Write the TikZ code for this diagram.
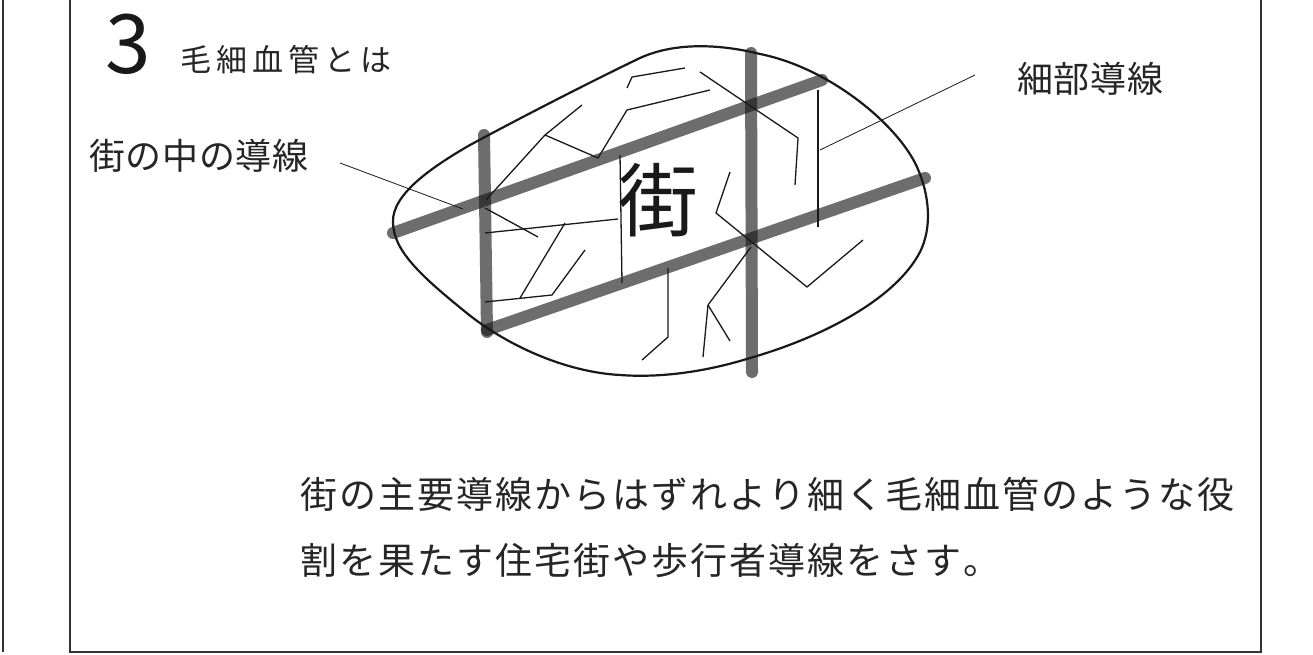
\documentclass[tikz,border=0pt]{standalone}
\usepackage{fontspec}
\setmainfont{Noto Sans CJK JP}
\newfontfamily\jpfont{Noto Sans CJK JP}

% spaced text: \spacedtext{gap}{characters}
\def\spacedtext#1#2{\def\spgap{#1}\spacedloop#2\relax}
\def\spacedloop#1{\ifx\relax#1\else#1\kern\spgap\expandafter\spacedloop\fi}

\begin{document}
\begin{tikzpicture}[x=1pt,y=-1pt,
  frameline/.style={line width=2pt, draw=black!80},
  outline/.style={line width=2.2pt, draw=black!90},
  thin/.style={line width=1.3pt, draw=black!90},
  leader/.style={line width=0.8pt, draw=black!90},
  road/.style={line width=12pt, line cap=round, draw=black!90, draw opacity=0.63},
  label/.style={inner sep=0pt, anchor=west, text=black!85}
]
\useasboundingbox (0,0) rectangle (1313,655);
\fill[white] (0,0) rectangle (1313,655);

% panel frame
\draw[frameline] (3,0) -- (3,652);
\draw[frameline] (70,0) -- (70,652) -- (1261,652) -- (1261,0);

% heading
\node[label, text=black!90] (num) at (105,44) {\fontsize{82}{84}\selectfont 3};
\node[label] (title) at (180,60) {\fontsize{31}{34}\selectfont\spacedtext{5pt}{毛細血管とは}};

% town outline
\draw[outline] (393,222)
  .. controls (392,195) and (430,168) .. (470,145)
  .. controls (520,118) and (590,82) .. (640,58)
  .. controls (675,42) and (720,44) .. (760,54)
  .. controls (830,68) and (898,125) .. (917,167)
  .. controls (930,196) and (932,228) .. (920,252)
  .. controls (895,300) and (820,338) .. (750,358)
  .. controls (705,372) and (660,378) .. (620,375)
  .. controls (565,372) and (505,345) .. (463,310)
  .. controls (420,275) and (393,250) .. cycle;

% fine paths inside the town
\draw[thin] (486,200) -- (545,135) -- (582,105);
\draw[thin] (545,135) -- (598,158) -- (627,110) -- (710,90);
\draw[thin] (627,88) -- (632,77) -- (685,68);
\draw[thin] (700,72) -- (798,138) -- (795,185);
\draw[thin] (818,90) -- (818,227);
\draw[thin] (485,208) -- (538,237);
\draw[thin] (485,233) -- (618,219);
\draw[thin] (620,155) -- (622,283);
\draw[thin] (565,223) -- (520,298);
\draw[thin] (485,302) -- (552,295) -- (585,250);
\draw[thin] (668,268) -- (668,337) -- (642,360);
\draw[thin] (730,172) -- (716,213) -- (807,287) -- (863,240);
\draw[thin] (751,247) -- (708,305) -- (703,357);
\draw[thin] (708,305) -- (730,341);

% main roads
\draw[road] (393,233) -- (822,80);
\draw[road] (487,330) -- (925,178);
\draw[road] (484,135) -- (487,332);
\draw[road] (751,53) -- (752,372);

% town label
\node[inner sep=0pt, text=black!90] (town) at (658,200) {\fontsize{80}{84}\selectfont 街};

% callouts
\node[label] (mainlbl) at (89,156) {\fontsize{36}{38}\selectfont\spacedtext{0.6pt}{街の中の導線}};
\coordinate (mainfrom) at (340,163);
\coordinate (mainto) at (463,209);
\draw[leader] (mainfrom) -- (mainto);

\node[label] (finelbl) at (1017,79) {\fontsize{36}{38}\selectfont\spacedtext{0.6pt}{細部導線}};
\coordinate (finefrom) at (975,75);
\coordinate (fineto) at (820,150);
\draw[leader] (finefrom) -- (fineto);

% description
\node[label] (desc1) at (300,494) {\fontsize{37}{40}\selectfont\spacedtext{2pt}{街の主要導線からはずれより細く毛細血管のような役}};
\node[label] (desc2) at (300,561) {\fontsize{37}{40}\selectfont\spacedtext{2pt}{割を果たす住宅街や歩行者導線をさす。}};
\end{tikzpicture}
\end{document}
